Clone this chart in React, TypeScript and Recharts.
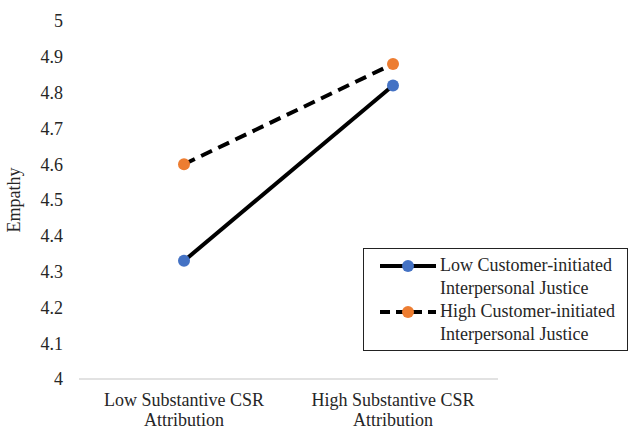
import { Line, LineChart, XAxis, YAxis } from "recharts";

const categories = ["Low Substantive CSR|Attribution", "High Substantive CSR|Attribution"];
const lowJustice = [4.33, 4.82];
const highJustice = [4.6, 4.88];
const yTicks = [4, 4.1, 4.2, 4.3, 4.4, 4.5, 4.6, 4.7, 4.8, 4.9, 5];

const data = categories.map((c, i) => ({
  cat: c,
  low: lowJustice[i],
  high: highJustice[i],
}));

const FONT = "'Liberation Serif', 'Times New Roman', serif";
const BLUE = "#4472C4";
const ORANGE = "#ED7D31";
const TEXT = "#262626";

function CatTick(props: any) {
  const { x, y, payload } = props;
  const lines = String(payload.value).split("|");
  return (
    <text x={x} y={y} textAnchor="middle" fontFamily={FONT} fontSize={18} fill={TEXT}>
      {lines.map((l, i) => (
        <tspan key={i} x={x} dy={i === 0 ? 19 : 20}>
          {l}
        </tspan>
      ))}
    </text>
  );
}

function LegendBox() {
  const row = (color: string, dashed: boolean, l1: string, l2: string) => (
    <div style={{ display: "flex", alignItems: "flex-start", height: 46 }}>
      <svg width={62} height={22} style={{ flexShrink: 0 }}>
        <line
          x1={2}
          y1={12}
          x2={58}
          y2={12}
          stroke="#000"
          strokeWidth={4}
          strokeDasharray={dashed ? "10 6" : undefined}
        />
        <circle cx={30} cy={12} r={6} fill={color} />
      </svg>
      <div style={{ lineHeight: "23px", whiteSpace: "nowrap" }}>
        {l1}
        <br />
        {l2}
      </div>
    </div>
  );
  return (
    <div
      style={{
        position: "absolute",
        left: 363,
        top: 248,
        border: "1px solid #222",
        background: "#fff",
        width: 265,
        height: 103,
        boxSizing: "border-box",
        padding: "5px 0 0 14px",
        fontFamily: FONT,
        fontSize: 18,
        color: TEXT,
      }}
    >
      {row(BLUE, false, "Low Customer-initiated", "Interpersonal Justice")}
      {row(ORANGE, true, "High Customer-initiated", "Interpersonal Justice")}
    </div>
  );
}

export default function App() {
  return (
    <div style={{ position: "absolute", left: 0, top: 0, width: 630, height: 428, background: "#fff" }}>
      <LineChart
        width={630}
        height={428}
        data={data}
        margin={{ top: 21, right: 132, left: 0, bottom: 0 }}
      >
        <XAxis
          dataKey="cat"
          axisLine={{ stroke: "#d9d9d9", strokeWidth: 1.5 }}
          tickLine={false}
          tick={<CatTick />}
          height={49}
          interval={0}
          padding={{ left: 105, right: 105 }}
        />
        <YAxis
          domain={[4, 5]}
          ticks={yTicks}
          width={79}
          axisLine={false}
          tickLine={false}
          tickFormatter={(v: number) => String(Math.round(v * 10) / 10)}
          tick={{ fontFamily: FONT, fontSize: 18, fill: TEXT, dx: -8 }}
          label={{
            value: "Empathy",
            angle: -90,
            position: "insideLeft",
            offset: 14,
            style: { fontFamily: FONT, fontSize: 18, fill: TEXT, textAnchor: "middle" },
          }}
        />
        <Line
          dataKey="low"
          stroke="#000"
          strokeWidth={4}
          dot={{ r: 6, fill: BLUE, stroke: "none" }}
          isAnimationActive={false}
        />
        <Line
          dataKey="high"
          stroke="#000"
          strokeWidth={4}
          strokeDasharray="12 7"
          dot={{ r: 6, fill: ORANGE, stroke: "none" }}
          isAnimationActive={false}
        />
      </LineChart>
      <LegendBox />
    </div>
  );
}
